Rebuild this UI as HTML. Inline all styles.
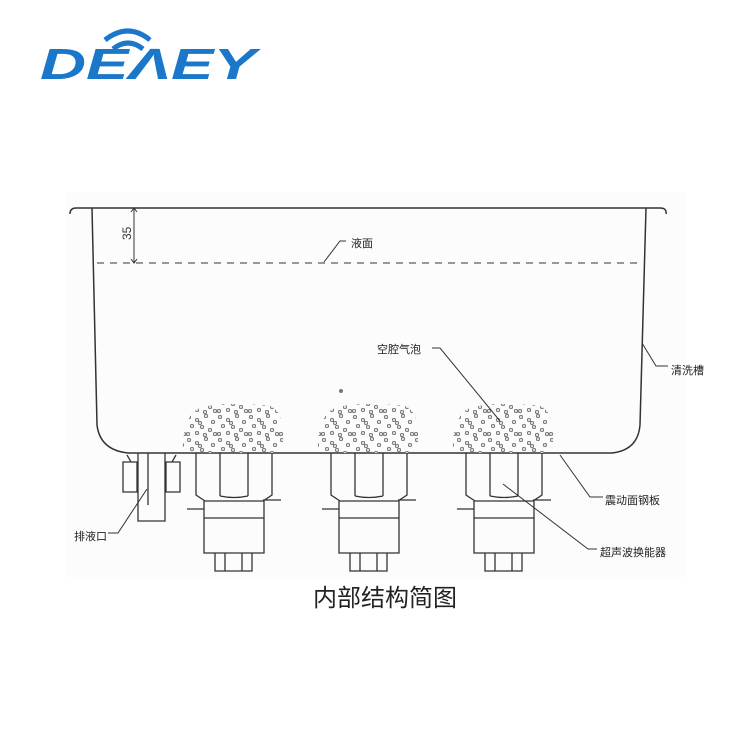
<!DOCTYPE html>
<html><head><meta charset="utf-8"><style>
html,body{margin:0;padding:0;background:#fff;}
svg{display:block}
</style></head><body>
<svg width="750" height="750" viewBox="0 0 750 750" xmlns="http://www.w3.org/2000/svg">
<defs>
<pattern id="bub" width="31" height="23" patternUnits="userSpaceOnUse">
<g fill="#ddd" stroke="#555" stroke-width="0.7">
<circle cx="3" cy="3" r="1.7"/>
<circle cx="11" cy="6" r="1.7"/>
<circle cx="20" cy="2" r="1.7"/>
<circle cx="27" cy="8" r="1.7"/>
<circle cx="6" cy="12" r="1.7"/>
<circle cx="16" cy="13" r="1.7"/>
<circle cx="24" cy="16" r="1.7"/>
<circle cx="2" cy="20" r="1.7"/>
<circle cx="11" cy="19" r="1.7"/>
<circle cx="19" cy="21" r="1.7"/>
<circle cx="29" cy="20" r="1.7"/>
<circle cx="14" cy="9" r="1.7"/>
</g>
</pattern>
<g id="tr" fill="none" stroke="#333" stroke-width="1.3">
<path d="M196 453 V495 L205 501 H263 L272 495 V453"/>
<path d="M220 453 V496 M248 453 V496 M220 496 Q234 499 248 496"/>
<path d="M204 501 V553 H264 V501 M204 518 H264 M263 500 H281 M187 509 H204"/>
<path d="M215 553 V571 H252 V553 M225 553 V571 M242 553 V571"/>
</g>
<path id="cl" d="M183 453 C182 430 188 412 200 408 C220 402 250 404 270 406 C282 410 285 430 282 453 Z"/>
</defs>
<rect x="66" y="192" width="620" height="385" fill="#fcfcfc"/>
<!-- logo -->
<g fill="#1a77c9">
<path d="M105 40 Q128 22 150 40" fill="none" stroke="#1a77c9" stroke-width="5"/>
<path d="M113 49 Q128 37 143 49" fill="none" stroke="#1a77c9" stroke-width="5"/>
<text x="40" y="79" font-family="Liberation Sans, sans-serif" font-size="44" font-weight="bold" font-style="italic" textLength="216" lengthAdjust="spacingAndGlyphs">DEΛEY</text>
</g>
<!-- tank -->
<g fill="none" stroke="#333" stroke-width="1.5">
<path d="M70 214 Q70 208 76 208 L660 208 Q667 208 666 214"/>
<path d="M92 208 L97 425 Q100 450 128 453 L612 453 Q638 450 640 425 L646 208"/>
<path d="M134 208 V263 M131 212 L134 208 L137 212 M131 259 L134 263 L137 259" stroke-width="1"/>
<path d="M97 263 H642" stroke-dasharray="7,6" stroke-width="1.1"/>
</g>
<text x="0" y="0" transform="translate(131,240) rotate(-90)" font-family="Liberation Sans, sans-serif" font-size="12" fill="#333">35</text>
<!-- bubbles -->
<g>
<use href="#cl" fill="url(#bub)"/>
<use href="#cl" fill="url(#bub)" transform="translate(135,0)"/>
<use href="#cl" fill="url(#bub)" transform="translate(270,0)"/>
</g>
<circle cx="341" cy="391" r="2" fill="#777"/>
<!-- transducers -->
<use href="#tr"/>
<use href="#tr" transform="translate(135,0)"/>
<use href="#tr" transform="translate(270,0)"/>
<!-- drain -->
<g fill="none" stroke="#333" stroke-width="1.3">
<path d="M138 453 V521 H165 V453 M148 453 V505"/>
<path d="M127 455 L131 462 H137 V492 H123 V462 H131 M176 455 L172 462 H166 V492 H180 V462 H172"/>
</g>
<!-- leaders -->
<g fill="none" stroke="#333" stroke-width="1">
<path d="M346 241 H340 L324 262"/>
<path d="M432 348 H440 L500 421"/>
<path d="M668 366 H656 L642 343"/>
<path d="M603 497 H590 L560 455"/>
<path d="M597 549 H588 L503 484"/>
<path d="M108 533 H118 L147 489"/>
</g>
<g font-family="Liberation Sans, Noto Sans CJK SC, sans-serif" font-size="11" fill="#222">
<text x="351" y="247">液面</text>
<text x="377" y="353">空腔气泡</text>
<text x="671" y="374">清洗槽</text>
<text x="605" y="504">震动面钢板</text>
<text x="600" y="556">超声波换能器</text>
<text x="74" y="540">排液口</text>
</g>
<text x="385" y="606" text-anchor="middle" font-family="Liberation Sans, Noto Sans CJK SC, sans-serif" font-size="24" fill="#222">内部结构简图</text>
</svg>
</body></html>
